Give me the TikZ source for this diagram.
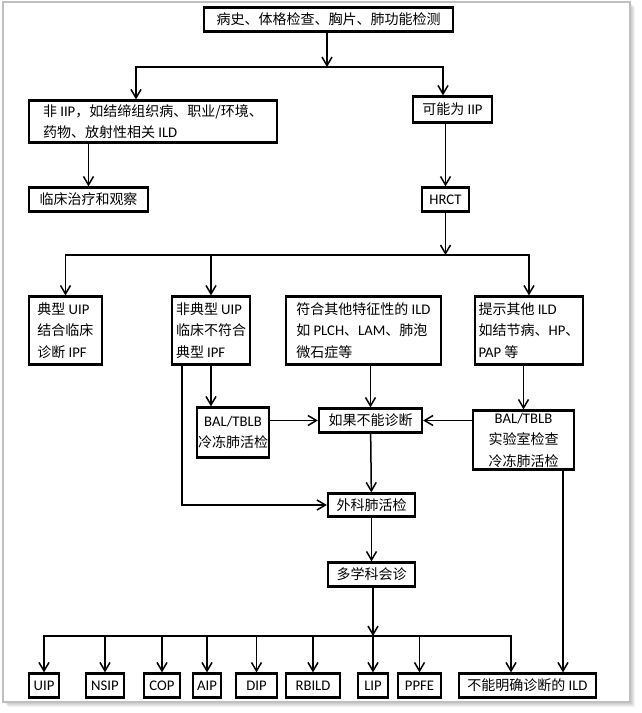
\documentclass[tikz,border=0pt]{standalone}
\usepackage{fontspec}
\setmainfont{Noto Sans CJK SC}
\newfontfamily\latinfont[Scale=1.05]{Carlito}
\newcommand{\en}[1]{{\latinfont #1}}
\usetikzlibrary{arrows.meta}

\begin{document}
\begin{tikzpicture}[x=1pt,y=-1pt,
    box/.style={draw,line width=2.2pt,inner xsep=4pt,inner ysep=1pt,align=left,
      font=\fontsize{14}{21.5}\selectfont},
    ctr/.style={box,align=center},
    arr/.style={-{Straight Barb[length=8.5pt,width=10pt]},line width=1.5pt}]
  \useasboundingbox (0,0) rectangle (641,713);
  % frame with shadow
  \foreach \s in {1,...,5}
    \fill[black,opacity=0.05] (3+\s,2+\s) rectangle (630+\s,702+\s);
  \draw[fill=white,draw=black!25,line width=1.2pt] (3,2) rectangle (630,702);

  % first level
  \node[box,minimum width=249pt,minimum height=24pt] (top) at (328.5,19.5)
    {病史、体格检查、胸片、肺功能检测};
  \node[box,minimum width=248pt,minimum height=42pt] (nonIIP) at (153,121.5)
    {非 \en{IIP}，如结缔组织病、职业/环境、\\药物、放射性相关 \en{ILD}};
  \node[box,minimum width=79pt,minimum height=26pt] (iip) at (452.5,109.5)
    {可能为 \en{IIP}};
  \node[box,minimum width=119pt,minimum height=24pt] (clinic) at (88.5,199.5)
    {临床治疗和观察};
  \node[box,minimum width=47pt,minimum height=24pt,font=\fontsize{14}{17}\latinfont] (hrct) at (445.5,199.5)
    {HRCT};

  % HRCT results
  \node[box,minimum width=73pt,minimum height=68pt] (typ) at (65.5,330.5)
    {典型 \en{UIP}\\结合临床\\诊断 \en{IPF}};
  \node[box,minimum width=76pt,minimum height=68pt] (atyp) at (211,330.5)
    {非典型 \en{UIP}\\临床不符合\\典型 \en{IPF}};
  \node[box,minimum width=155pt,minimum height=68pt] (other) at (363.5,330.5)
    {符合其他特征性的 \en{ILD}\\如 \en{PLCH}、\en{LAM}、肺泡\\微石症等};
  \node[box,minimum width=102pt,minimum height=68pt] (hint) at (529,330.5)
    {提示其他 \en{ILD}\\如结节病、\en{HP}、\\\en{PAP} 等};

  % further tests
  \node[ctr,minimum width=72pt,minimum height=50pt,inner xsep=1pt] (bal) at (233,432.5)
    {\en{BAL/TBLB}\\冷冻肺活检};
  \node[box,minimum width=103pt,minimum height=24pt] (undiag) at (370.5,420.5)
    {如果不能诊断};
  \node[ctr,minimum width=101pt,minimum height=59pt] (bal2) at (523.5,440)
    {\en{BAL/TBLB}\\实验室检查\\冷冻肺活检};
  \node[box,minimum width=87pt,minimum height=23pt] (surg) at (371.5,505)
    {外科肺活检};
  \node[box,minimum width=87pt,minimum height=24pt] (mdt) at (371.5,574.5)
    {多学科会诊};

  % final diagnoses
  \begin{scope}[every node/.style={box,minimum height=24pt,inner xsep=2pt,
      font=\fontsize{14}{17}\latinfont}]
    \node[minimum width=30pt] (uip) at (44,685.5) {UIP};
    \node[minimum width=38pt] (nsip) at (105,685.5) {NSIP};
    \node[minimum width=36pt] (cop) at (162,685.5) {COP};
    \node[minimum width=28pt] (aip) at (207,685.5) {AIP};
    \node[minimum width=41pt] (dip) at (256.5,685.5) {DIP};
    \node[minimum width=54pt] (rbild) at (313,685.5) {RBILD};
    \node[minimum width=30pt] (lip) at (373,685.5) {LIP};
    \node[minimum width=43pt] (ppfe) at (419.5,685.5) {PPFE};
  \end{scope}
  \node[box,minimum width=137pt,minimum height=24pt] (nodiag) at (527.5,685.5)
    {不能明确诊断的 \en{ILD}};

  % connectors
  \coordinate (split1) at (327,67);
  \draw[arr] (top.south -| split1) -- (split1);
  \draw[arr] (split1) -| ([xshift=-17pt]nonIIP.north);
  \draw[arr] (split1) -| ([xshift=-9.5pt]iip.north);
  \draw[arr] (nonIIP.south -| clinic) -- (clinic);
  \draw[arr] (iip.south -| hrct) -- (hrct);

  \coordinate (split2) at (445.5,255);
  \draw[arr] (hrct) -- (split2);
  \foreach \n in {typ,atyp,hint}
    \draw[arr] (split2) -| (\n.north);

  \draw[arr] (atyp.south) -- (atyp.south |- bal.north);
  \draw[arr] ([xshift=-29pt]atyp.south) |- (surg.west);
  \draw[arr] (bal.east |- undiag) -- (undiag.west);
  \draw[arr] (other.south -| undiag) -- (undiag.north);
  \draw[arr] (hint.south -| bal2) -- (bal2.north);
  \draw[arr] (bal2.west |- undiag) -- (undiag.east);
  \draw[arr] (undiag) -- (surg);
  \draw[arr] (surg) -- (mdt);

  \coordinate (split3) at (373,636);
  \draw[arr] (mdt.south -| split3) -- (split3);
  \foreach \n in {uip,nsip,cop,aip,dip,rbild,ppfe}
    \draw[arr] (split3) -| (\n.north);
  \draw[arr] (split3) -- (lip.north);
  \draw[arr] (split3) -| ([xshift=-16.5pt]nodiag.north);
  \draw[arr] ([xshift=39.5pt]bal2.south) -- ([xshift=35.5pt]nodiag.north);
\end{tikzpicture}
\end{document}
